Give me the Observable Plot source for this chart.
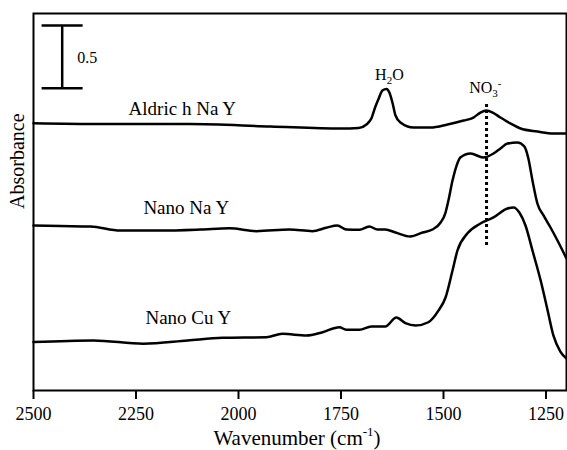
<!DOCTYPE html>
<html><head><meta charset="utf-8">
<script src="https://cdn.jsdelivr.net/npm/d3@7"></script>
<script src="https://cdn.jsdelivr.net/npm/@observablehq/plot@0.6"></script>
<style>
body{margin:0;background:#fff}
svg text{font-family:"Liberation Serif", serif !important;}
</style>
</head><body><div id="chart"></div>
<script>
// ---- data ----
const xTicks = [2500, 2250, 2000, 1750, 1500, 1250];
const seriesNames = ["Aldric h Na Y", "Nano Na Y", "Nano Cu Y"];

const wnAldrich  = [2500,2337,2120,1922,1751,1707,1688,1676,1666,1658,1649,1639,1632,1624,1617,1605,1573,1532,1490,1451,1427,1410,1395,1380,1361,1337,1312,1271,1232,1200];
const absAldrich = [2.127,2.121,2.121,2.101,2.085,2.089,2.117,2.164,2.260,2.324,2.387,2.399,2.371,2.284,2.188,2.133,2.093,2.093,2.117,2.148,2.172,2.212,2.228,2.212,2.172,2.125,2.085,2.061,2.045,2.045];

const wnNanoNa  = [2500,2434,2361,2288,2190,2093,2022,1956,1876,1820,1786,1759,1737,1705,1681,1661,1642,1617,1581,1551,1527,1507,1495,1488,1478,1468,1459,1434,1403,1378,1361,1344,1320,1303,1293,1283,1271,1256,1239,1222,1200];
const absNanoNa = [1.313,1.309,1.305,1.273,1.273,1.281,1.291,1.268,1.281,1.268,1.295,1.313,1.281,1.279,1.305,1.281,1.281,1.257,1.225,1.257,1.281,1.337,1.416,1.512,1.671,1.790,1.854,1.886,1.854,1.886,1.926,1.965,1.973,1.942,1.846,1.671,1.488,1.393,1.297,1.194,1.050];

const wnNanoCu  = [2500,2354,2232,2124,2039,1932,1893,1834,1795,1754,1737,1705,1676,1642,1615,1593,1568,1537,1512,1495,1478,1466,1442,1410,1378,1344,1329,1315,1300,1283,1263,1246,1232,1215,1200];
const absNanoCu = [0.385,0.398,0.372,0.398,0.419,0.424,0.451,0.438,0.464,0.504,0.483,0.483,0.509,0.509,0.581,0.536,0.517,0.543,0.637,0.740,0.955,1.114,1.249,1.329,1.377,1.448,1.456,1.416,1.313,1.114,0.875,0.637,0.438,0.310,0.255];

// scale bar (0.5 absorbance units)
const scaleBarValue = 0.5;
const scaleBarWn = 2430;
const scaleBarCapWn = [2479, 2379];
const scaleBarBase = 2.405;

// NO3- marker
const nitrateWn = 1395;
const nitrateSpan = [1.154, 2.284];

// annotations
const seriesLabelWn  = [2268, 2232, 2227];
const seriesLabelAbs = [2.196, 1.408, 0.533];
const bandLabels = ["H2O", "NO3-"];
const bandLabelWn = [1632, 1398];
const bandLabelAbs = [2.467, 2.365];

// ---- build tables ----
const toRows = (name, wn, ab) => wn.map((w, i) => ({series: name, wn: w, abs: ab[i]}));
const spectra = [
  ...toRows(seriesNames[0], wnAldrich, absAldrich),
  ...toRows(seriesNames[1], wnNanoNa, absNanoNa),
  ...toRows(seriesNames[2], wnNanoCu, absNanoCu)
];
const seriesLabels = seriesNames.map((s, i) => ({text: s, wn: seriesLabelWn[i], abs: seriesLabelAbs[i]}));
const bandLabelRows = bandLabels.map((s, i) => ({text: s, wn: bandLabelWn[i], abs: bandLabelAbs[i]}));
const barTop = scaleBarBase + scaleBarValue;

const FONT = "Liberation Serif";

const chart = Plot.plot({
  width: 567,
  height: 450,
  marginLeft: 33,
  marginRight: 1,
  marginTop: 13,
  marginBottom: 60,
  style: {fontFamily: FONT, fontSize: "18px", color: "black", background: "white"},
  x: {domain: [2500, 1200], axis: null},
  y: {domain: [0, 3], axis: null},
  marks: [
    Plot.axisX({ticks: xTicks, tickFormat: d => String(d), tickSize: 9, tickPadding: 8,
                strokeWidth: 2, fontSize: 18, label: null, fontFamily: FONT}),
    Plot.frame({stroke: "black", strokeWidth: 2}),
    Plot.line(spectra, {x: "wn", y: "abs", z: "series", stroke: "black", strokeWidth: 2.5, curve: "monotone-x"}),
    Plot.ruleX([{x: nitrateWn, y1: nitrateSpan[0], y2: nitrateSpan[1]}],
               {x: "x", y1: "y1", y2: "y2", stroke: "black", strokeWidth: 3, strokeDasharray: "3,3"}),
    Plot.ruleX([{x: scaleBarWn, y1: scaleBarBase, y2: barTop}], {x: "x", y1: "y1", y2: "y2", stroke: "black", strokeWidth: 2.5}),
    Plot.ruleY([{y: scaleBarBase}, {y: barTop}], {y: "y", x1: scaleBarCapWn[0], x2: scaleBarCapWn[1], stroke: "black", strokeWidth: 2.5}),
    Plot.text([{t: String(scaleBarValue), wn: 2393, abs: 2.607}], {x: "wn", y: "abs", text: "t", textAnchor: "start", lineAnchor: "bottom", fontSize: 16, fontFamily: FONT, fill: "black"}),
    Plot.text(seriesLabels, {x: "wn", y: "abs", text: "text", textAnchor: "start", lineAnchor: "bottom", fontSize: 19, fontFamily: FONT, fill: "black"}),
    Plot.text(bandLabelRows, {x: "wn", y: "abs", text: "text", textAnchor: "middle", lineAnchor: "bottom", fontSize: 16, fontFamily: FONT, fill: "black"}),
    Plot.text(["Wavenumber (cm-1)"], {frameAnchor: "bottom", dx: -3, dy: 54, lineAnchor: "bottom", fontSize: 21, fontFamily: FONT, fill: "black"}),
    Plot.text(["Absorbance"], {frameAnchor: "left", rotate: -90, dx: -15.5, dy: 7, fontSize: 20, fontFamily: FONT, fill: "black"})
  ]
});

// sub/superscripts as real text
d3.select(chart).selectAll("text").each(function() {
  const el = d3.select(this);
  const t = this.textContent;
  if (t === "H2O") {
    el.text("H");
    el.append("tspan").attr("dy", 4).attr("font-size", 11).text("2");
    el.append("tspan").attr("dy", -4).text("O");
  } else if (t === "NO3-") {
    el.text("NO");
    el.append("tspan").attr("dy", 4).attr("font-size", 11).text("3");
    el.append("tspan").attr("dy", -10).attr("dx", 0).attr("font-size", 11).text("-");
  } else if (t === "Wavenumber (cm-1)") {
    el.text("Wavenumber (cm");
    el.append("tspan").attr("dy", -9).attr("font-size", 13).text("-1");
    el.append("tspan").attr("dy", 9).text(")");
  }
});

document.getElementById("chart").appendChild(chart);
</script>
</body></html>
